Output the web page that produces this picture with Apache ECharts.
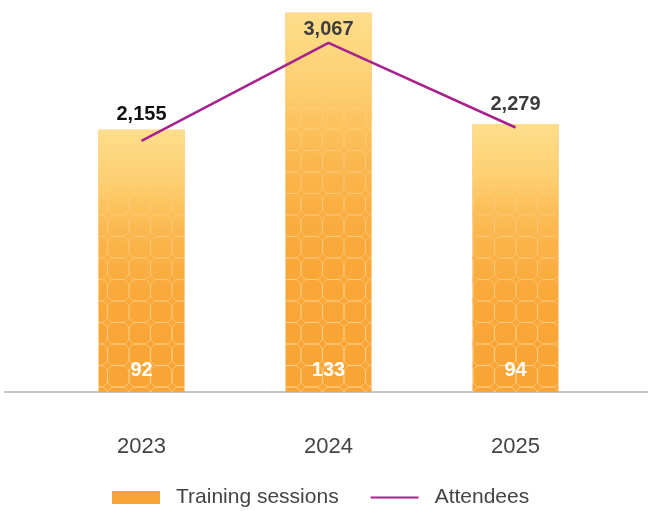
<!DOCTYPE html>
<html>
<head>
<meta charset="utf-8">
<script src="https://cdn.jsdelivr.net/npm/echarts@6/dist/echarts.min.js"></script>
<style>
  html, body { margin: 0; padding: 0; background: #ffffff; }
  #chart { width: 648px; height: 511px; }
</style>
</head>
<body>
<div id="chart"></div>
<script>
// Yearly training activity
const years = ['2023', '2024', '2025'];
const sessions = [92, 133, 94];
const attendees = [2155, 3067, 2279];

// label placement / tint for the attendee figures
const attLabelGap = [16, 3, 13];
const attLabelColor = ['#111111', '#3d3d3d', '#3d3d3d'];

const FONT = '"Liberation Sans", Arial, sans-serif';
const ORANGE = '#f9a535';
const PURPLE = '#a8228e';

// tile of rounded squares used as the bar ornament
function makeTile() {
  const cell = 21.5, s = cell * 2;
  const c = document.createElement('canvas');
  c.width = s; c.height = s;
  const ctx = c.getContext('2d');
  ctx.strokeStyle = 'rgba(255,236,200,0.45)';
  ctx.lineWidth = 1;
  const r = 7;
  for (let i = -1; i <= 2; i++) {
    for (let j = -1; j <= 2; j++) {
      const x = i * cell, y = j * cell;
      ctx.beginPath();
      ctx.moveTo(x + r, y);
      ctx.lineTo(x + cell - r, y);
      ctx.arcTo(x + cell, y, x + cell, y + r, r);
      ctx.lineTo(x + cell, y + cell - r);
      ctx.arcTo(x + cell, y + cell, x + cell - r, y + cell, r);
      ctx.lineTo(x + r, y + cell);
      ctx.arcTo(x, y + cell, x, y + cell - r, r);
      ctx.lineTo(x, y + r);
      ctx.arcTo(x, y, x + r, y, r);
      ctx.closePath();
      ctx.stroke();
    }
  }
  return c;
}

const chart = echarts.init(document.getElementById('chart'), null, { renderer: 'canvas' });

const option = {
  animation: false,
  backgroundColor: '#ffffff',
  textStyle: { fontFamily: FONT },
  grid: [
    { left: 48, right: 39, top: 7, bottom: 119 },
    { left: 5, right: 0, top: 7, bottom: 119 }
  ],
  legend: {
    left: 107,
    top: 482,
    itemWidth: 48,
    itemHeight: 13,
    itemGap: 31,
    data: [
      { name: 'Training sessions', icon: 'rect' },
      { name: 'Attendees', itemStyle: { opacity: 0 } }
    ],
    textStyle: { fontFamily: FONT, fontSize: 21, color: '#444444', padding: [0, 0, 0, 11] }
  },
  xAxis: [
    {
      type: 'category',
      gridIndex: 0,
      data: years,
      axisLine: { show: false },
      axisTick: { show: false },
      axisLabel: { margin: 44, fontSize: 22, color: '#444444', fontFamily: FONT }
    },
    {
      type: 'value',
      gridIndex: 1,
      axisLine: { show: true, onZero: false, lineStyle: { color: '#c4c4c4', width: 2 } },
      axisTick: { show: false },
      axisLabel: { show: false },
      splitLine: { show: false }
    }
  ],
  yAxis: [
    { type: 'value', gridIndex: 0, min: 0, max: 135, show: false },
    { type: 'value', gridIndex: 0, min: -180, max: 3400, show: false },
    { type: 'value', gridIndex: 1, show: false }
  ],
  series: [
    {
      name: 'Training sessions',
      type: 'bar',
      xAxisIndex: 0, yAxisIndex: 0,
      barWidth: 86,
      barGap: '-100%',
      data: sessions,
      itemStyle: { color: ORANGE }
    },
    {
      name: 'ornament',
      type: 'bar',
      xAxisIndex: 0, yAxisIndex: 0,
      barWidth: 86,
      barGap: '-100%',
      silent: true,
      data: sessions,
      itemStyle: { color: { image: makeTile(), repeat: 'repeat' } }
    },
    {
      name: 'glow',
      type: 'bar',
      xAxisIndex: 0, yAxisIndex: 0,
      barWidth: 86,
      barGap: '-100%',
      silent: true,
      data: sessions,
      itemStyle: {
        color: {
          type: 'linear', x: 0, y: 0, x2: 0, y2: 1,
          colorStops: [
            { offset: 0, color: 'rgba(254,222,140,1)' },
            { offset: 0.2, color: 'rgba(253,208,114,0.97)' },
            { offset: 0.4, color: 'rgba(252,194,94,0.62)' },
            { offset: 0.7, color: 'rgba(250,174,64,0.2)' },
            { offset: 1, color: 'rgba(249,165,53,0)' }
          ]
        }
      },
      label: {
        show: true,
        position: 'insideBottom',
        distance: 12,
        color: '#ffffff',
        fontSize: 20,
        fontWeight: 'bold',
        fontFamily: FONT
      }
    },
    {
      name: 'Attendees',
      type: 'line',
      xAxisIndex: 0, yAxisIndex: 1,
      z: 5,
      symbol: 'circle',
      symbolSize: 0,
      itemStyle: { color: PURPLE },
      lineStyle: { color: PURPLE, width: 2.6 },
      data: attendees.map((v, i) => ({
        value: v,
        label: { distance: attLabelGap[i], color: attLabelColor[i] }
      })),
      label: {
        show: true,
        position: 'top',
        fontSize: 20,
        fontWeight: 'bold',
        fontFamily: FONT,
        formatter: p => p.value.toLocaleString('en-US')
      }
    }
  ]
};

chart.setOption(option);
</script>
</body>
</html>
